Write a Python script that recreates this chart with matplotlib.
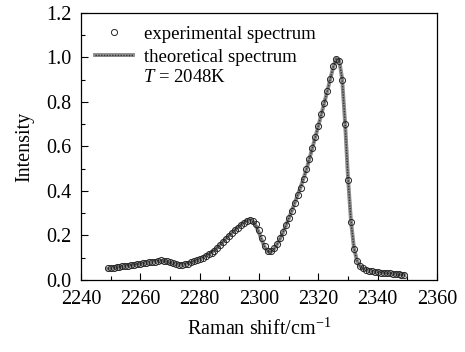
import matplotlib
matplotlib.use("Agg")
import matplotlib.pyplot as plt
from matplotlib.ticker import MultipleLocator, FormatStrFormatter
from matplotlib.legend_handler import HandlerTuple

shift = list(range(2249, 2350))
experimental = [
    0.052, 0.053, 0.055, 0.056, 0.058, 0.060, 0.062, 0.064, 0.066, 0.068,
    0.070, 0.072, 0.074, 0.076, 0.078, 0.080, 0.082, 0.085, 0.087, 0.086,
    0.083, 0.079, 0.075, 0.071, 0.068, 0.067, 0.069, 0.073, 0.078, 0.083,
    0.088, 0.093, 0.099, 0.106, 0.114, 0.122, 0.131, 0.142, 0.155, 0.170,
    0.185, 0.198, 0.210, 0.222, 0.234, 0.245, 0.256, 0.265, 0.270, 0.266,
    0.250, 0.222, 0.186, 0.150, 0.128, 0.128, 0.142, 0.163, 0.188, 0.215,
    0.245, 0.277, 0.311, 0.347, 0.382, 0.415, 0.455, 0.497, 0.545, 0.595,
    0.644, 0.694, 0.745, 0.797, 0.850, 0.905, 0.960, 0.995, 0.985, 0.900,
    0.700, 0.450, 0.260, 0.140, 0.085, 0.062, 0.052, 0.046, 0.042, 0.039,
    0.037, 0.035, 0.033, 0.032, 0.030, 0.029, 0.028, 0.026, 0.025, 0.024,
    0.022,
]
theoretical = [
    0.050, 0.052, 0.054, 0.056, 0.058, 0.060, 0.062, 0.064, 0.066, 0.068,
    0.070, 0.072, 0.074, 0.076, 0.078, 0.080, 0.082, 0.084, 0.086, 0.085,
    0.082, 0.078, 0.074, 0.071, 0.068, 0.068, 0.070, 0.074, 0.078, 0.083,
    0.088, 0.094, 0.100, 0.107, 0.115, 0.124, 0.134, 0.146, 0.160, 0.174,
    0.188, 0.201, 0.214, 0.226, 0.238, 0.249, 0.259, 0.267, 0.270, 0.262,
    0.242, 0.212, 0.176, 0.145, 0.127, 0.126, 0.138, 0.158, 0.183, 0.211,
    0.242, 0.275, 0.309, 0.345, 0.381, 0.416, 0.456, 0.498, 0.545, 0.594,
    0.643, 0.693, 0.744, 0.796, 0.849, 0.903, 0.957, 0.995, 0.988, 0.905,
    0.705, 0.455, 0.262, 0.142, 0.086, 0.062, 0.051, 0.045, 0.041, 0.038,
    0.036, 0.034, 0.033, 0.031, 0.030, 0.029, 0.027, 0.026, 0.025, 0.024,
    0.022,
]
temperature_label = "$T$ = 2048K"

plt.rcParams['font.family'] = ['Liberation Serif', 'DejaVu Serif']
plt.rcParams['mathtext.fontset'] = 'custom'
plt.rcParams['mathtext.it'] = 'Liberation Serif:italic'
plt.rcParams['mathtext.rm'] = 'Liberation Serif'

fig = plt.figure(figsize=(4.65, 3.52), dpi=100)
ax = fig.add_axes([0.174, 0.205, 0.766, 0.758])

th1, = ax.plot(shift, theoretical, color='0.55', lw=2.8, zorder=2)
th2, = ax.plot(shift, theoretical, color='0.2', lw=1.0, linestyle=(0, (1, 1)), zorder=2)
ex, = ax.plot(shift, experimental, linestyle='none', marker='o', markersize=4.4,
              markerfacecolor='none', markeredgecolor='0.15', markeredgewidth=0.7,
              zorder=3)

ax.set_xlim(2240, 2360)
ax.set_ylim(0, 1.2)
ax.xaxis.set_major_locator(MultipleLocator(20))
ax.xaxis.set_minor_locator(MultipleLocator(10))
ax.yaxis.set_major_locator(MultipleLocator(0.2))
ax.yaxis.set_minor_locator(MultipleLocator(0.1))
ax.yaxis.set_major_formatter(FormatStrFormatter('%.1f'))
ax.tick_params(which='both', direction='in', top=False, right=False, labelsize=14.5, width=0.8)
ax.tick_params(which='major', length=5, pad=7)
ax.tick_params(which='minor', length=3)
for s in ax.spines.values():
    s.set_linewidth(0.9)

ax.set_xlabel('Raman shift/cm$^{-1}$', fontsize=14.5, labelpad=7)
ax.set_ylabel('Intensity', fontsize=14.5, labelpad=8)

leg = ax.legend([ex, (th1, th2)], ['experimental spectrum', 'theoretical spectrum'],
                handler_map={tuple: HandlerTuple(ndivide=1)},
                loc='upper left', bbox_to_anchor=(0.024, 0.974), frameon=False,
                fontsize=13.5, handlelength=2.0, handletextpad=0.6, borderaxespad=0.0,
                labelspacing=0.32, borderpad=0.3)
ax.text(0.174, 0.757, temperature_label, transform=ax.transAxes, fontsize=13.5,
        va='center', ha='left')

fig.savefig('out.png', dpi=100)
